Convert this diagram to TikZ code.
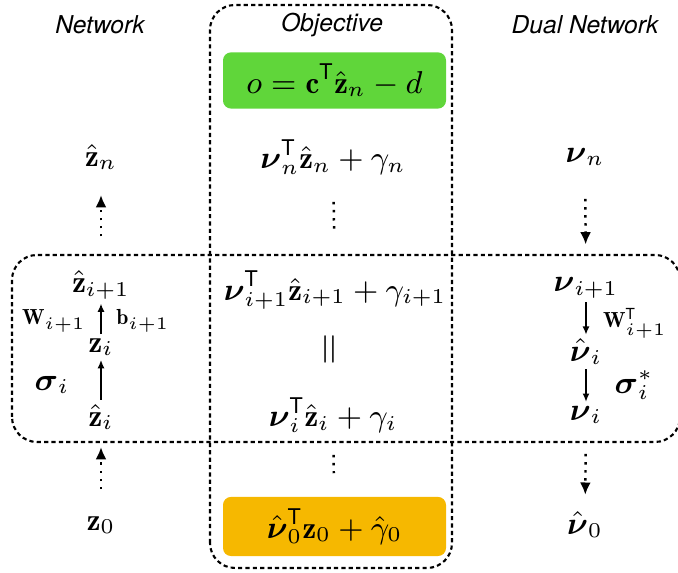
\documentclass[tikz,border=0pt]{standalone}
\usepackage{amsmath}
\usepackage{fontspec}
\setsansfont{TeX Gyre Heros}
\usepackage{xcolor}
\usetikzlibrary{arrows.meta}

\definecolor{objgreen}{RGB}{96,214,58}
\definecolor{objyellow}{RGB}{246,184,0}

\newcommand{\trsp}{\mathsf{T}}
\newcommand{\bnu}{\boldsymbol{\nu}}
\newcommand{\zh}{\hat{\mathbf{z}}}

\begin{document}
\begin{tikzpicture}[
    font=\fontsize{8.8}{10.5}\selectfont,
    header/.style={font=\fontsize{7}{8}\selectfont\sffamily\itshape},
    small label/.style={font=\fontsize{6.2}{7.5}\selectfont},
    mathnode/.style={inner sep=1pt},
    border/.style={line width=0.6pt, dash pattern=on 1.2pt off 0.9pt, rounded corners=0.25cm},
    objbox/.style={rounded corners=0.08cm, minimum width=2.23cm, minimum height=0.47cm},
    arr/.style={-{Latex[length=2.4pt,width=2pt]}, line width=0.5pt},
    dotarr/.style={-{Latex[length=3.5pt,width=3.1pt]}, dash pattern=on 0.7pt off 1.6pt, line width=0.7pt},
    dots/.style={dash pattern=on 0.7pt off 1.6pt, line width=0.7pt}]
      \useasboundingbox (0, 0) rectangle (6.78, 5.73);

      % Frames
      \draw[border] (2.10, 0.05) rectangle (4.52, 5.68);
      \draw[border] (0.12, 1.31) rectangle (6.80, 3.18);

      % Column titles
      \node[header] (nettitle) at (1.00, 5.48) {Network};
      \node[header] (objtitle) at (3.32, 5.48) {Objective};
      \node[header] (dualtitle) at (5.85, 5.48) {Dual Network};

      % Objective boxes
      \node[objbox, fill=objgreen] (objtop) at (3.345, 4.925) {$o = \mathbf{c}^{\trsp}\zh_n - d$};
      \node[objbox, fill=objyellow] (objbot) at (3.345, 0.465) {$\hat{\bnu}_0^{\trsp}\mathbf{z}_0 + \hat{\gamma}_0$};

      % Network column
      \node[mathnode] (zhatn) at (1.01, 4.16) {$\zh_n$};
      \node[mathnode] (zhatip1) at (1.01, 2.88) {$\zh_{i+1}$};
      \node[mathnode] (zi) at (1.01, 2.26) {$\mathbf{z}_i$};
      \node[mathnode] (zhati) at (1.01, 1.56) {$\zh_i$};
      \node[mathnode] (zzero) at (1.01, 0.48) {$\mathbf{z}_0$};
      \node[small label] (wlbl) at (0.54, 2.52) {$\mathbf{W}_{i+1}$};
      \node[small label] (blbl) at (1.43, 2.52) {$\mathbf{b}_{i+1}$};
      \node (siglbl) at (0.52, 1.88) {$\boldsymbol{\sigma}_i$};

      % Objective column
      \node[mathnode] (rown) at (3.33, 4.16) {$\bnu_n^{\trsp}\zh_n + \gamma_n$};
      \node[mathnode] (rowip1) at (3.35, 2.83) {$\bnu_{i+1}^{\trsp}\zh_{i+1} + \gamma_{i+1}$};
      \node[rotate=90, font=\large] (equal) at (3.32, 2.24) {$=$};
      \node[mathnode] (rowi) at (3.33, 1.58) {$\bnu_i^{\trsp}\zh_i + \gamma_i$};

      % Dual network column
      \node[mathnode] (nun) at (5.85, 4.16) {$\bnu_n$};
      \node[mathnode] (nuip1) at (5.86, 2.85) {$\bnu_{i+1}$};
      \node[mathnode] (nuhati) at (5.86, 2.21) {$\hat{\bnu}_i$};
      \node[mathnode] (nui) at (5.86, 1.58) {$\bnu_i$};
      \node[mathnode] (nuhatzero) at (5.85, 0.48) {$\hat{\bnu}_0$};
      \node[small label] (wtlbl) at (6.35, 2.50) {$\mathbf{W}_{i+1}^{\trsp}$};
      \node (sigstar) at (6.34, 1.88) {$\boldsymbol{\sigma}_i^*$};

      % Layer arrows
      \draw[arr] (zi) -- (zhatip1);
      \draw[arr] (zhati) -- (zi);
      \draw[arr] (nuip1.south -| nuhati) -- (nuhati);
      \draw[arr] (nuhati) -- (nui);

      % Skipped layers
      \draw[dotarr, shorten <=0.30cm, shorten >=0.21cm] (zhatip1) -- (zhatn);
      \draw[dotarr, shorten <=0.23cm, shorten >=0.13cm] (zzero) -- (zhati);
      \draw[dotarr, shorten <=0.29cm, shorten >=0.29cm] (nun) -- (nuip1);
      \draw[dotarr, shorten <=0.26cm, shorten >=0.13cm] (nui) -- (nuhatzero);
      \draw[dots, shorten <=0.23cm, shorten >=0.36cm] (rown) -- (rowip1);
      \draw[dots, shorten <=0.18cm, shorten >=0.23cm] (rowi) -- (objbot);
    \end{tikzpicture}
\end{document}
